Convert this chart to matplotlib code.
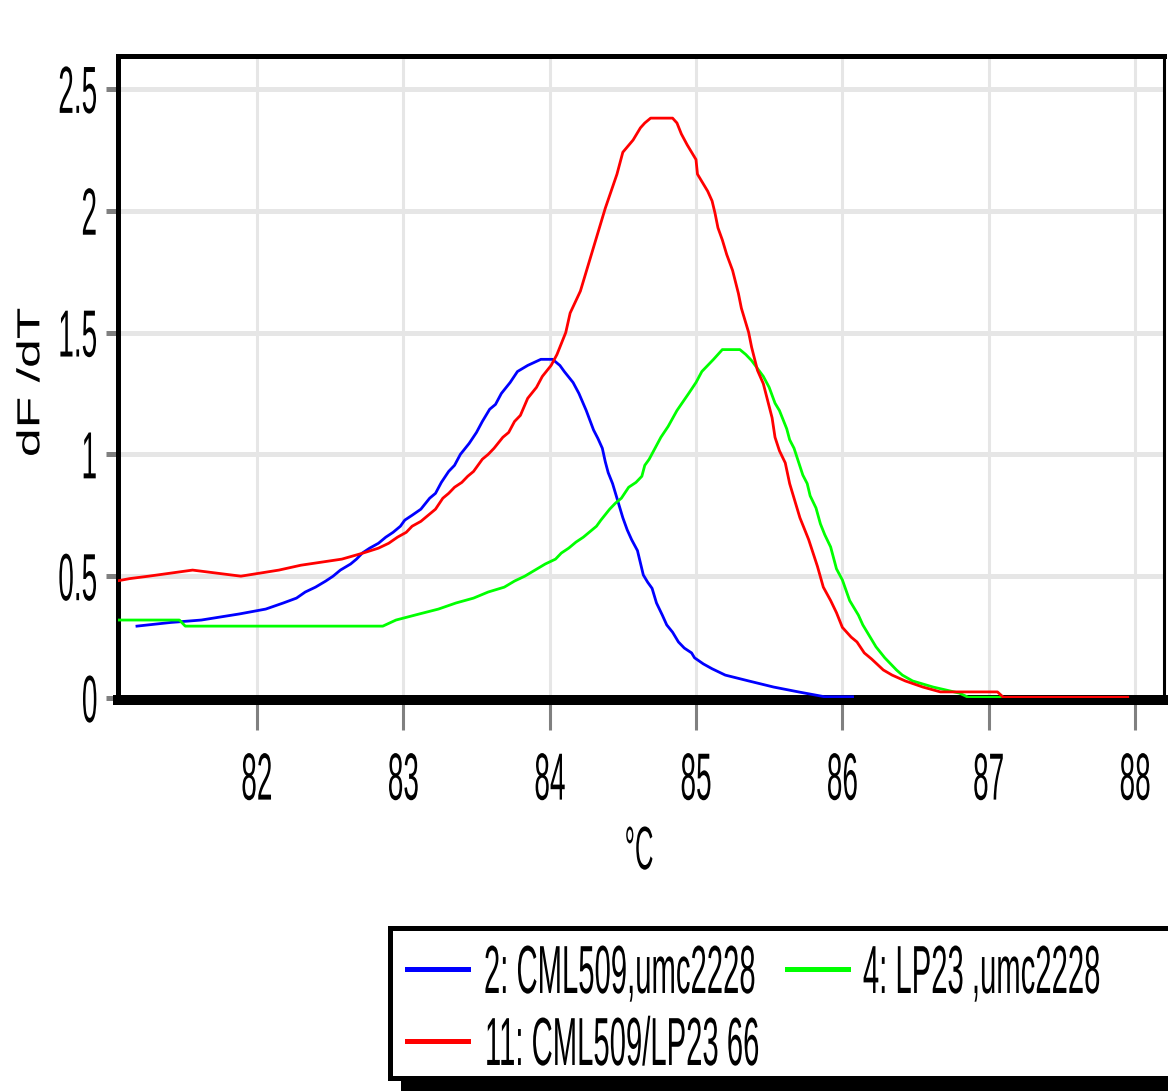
import matplotlib
matplotlib.use("Agg")
import matplotlib.pyplot as plt
from matplotlib import patheffects
from matplotlib.transforms import Affine2D
from matplotlib.patches import Rectangle
from matplotlib.lines import Line2D

# ---------------------------------------------------------
# data (temperature in degC, dF/dT)
# ---------------------------------------------------------
t_blue = [81.18, 81.41, 81.62, 81.88, 82.06, 82.18, 82.27, 82.33, 82.40, 82.47,
          82.52, 82.57, 82.64, 82.68, 82.72, 82.77, 82.83, 82.88, 82.93, 82.98,
          83.01, 83.06, 83.12, 83.18, 83.22, 83.26, 83.31, 83.35, 83.39, 83.45,
          83.50, 83.54, 83.59, 83.63, 83.67, 83.73, 83.78, 83.85, 83.94, 84.02,
          84.07, 84.10, 84.16, 84.20, 84.25, 84.30, 84.33, 84.36, 84.38, 84.40,
          84.43, 84.47, 84.50, 84.53, 84.56, 84.60, 84.62, 84.64, 84.67, 84.70,
          84.73, 84.77, 84.80, 84.84, 84.88, 84.92, 84.97, 84.99, 85.05, 85.11,
          85.20, 85.36, 85.53, 85.70, 85.88, 86.07]
d_blue = [0.295, 0.31, 0.32, 0.345, 0.365, 0.39, 0.41, 0.435, 0.455, 0.48,
          0.50, 0.525, 0.55, 0.57, 0.595, 0.615, 0.635, 0.66, 0.68, 0.705,
          0.73, 0.75, 0.775, 0.82, 0.84, 0.885, 0.93, 0.955, 1.0, 1.045,
          1.09, 1.135, 1.185, 1.205, 1.25, 1.295, 1.34, 1.365, 1.39, 1.39,
          1.365, 1.34, 1.295, 1.25, 1.18, 1.10, 1.065, 1.025, 0.97, 0.925,
          0.88, 0.80, 0.74, 0.69, 0.65, 0.605, 0.555, 0.505, 0.475, 0.45,
          0.39, 0.34, 0.30, 0.27, 0.23, 0.205, 0.185, 0.165, 0.14, 0.12,
          0.094, 0.07, 0.045, 0.025, 0.005, 0.005]

t_green = [81.04, 81.47, 81.51, 82.86, 82.95, 83.11, 83.24, 83.36, 83.48, 83.58,
           83.69, 83.76, 83.83, 83.90, 83.97, 84.04, 84.08, 84.13, 84.18, 84.23,
           84.28, 84.32, 84.35, 84.41, 84.45, 84.49, 84.54, 84.59, 84.63, 84.65,
           84.68, 84.72, 84.76, 84.81, 84.87, 84.95, 85.00, 85.04, 85.08, 85.12,
           85.15, 85.18, 85.30, 85.34, 85.38, 85.46, 85.50, 85.54, 85.57, 85.62,
           85.64, 85.67, 85.70, 85.73, 85.76, 85.78, 85.82, 85.85, 85.88, 85.92,
           85.96, 86.00, 86.05, 86.11, 86.14, 86.19, 86.23, 86.29, 86.37, 86.41,
           86.48, 86.62, 86.80, 86.86, 87.08]
d_green = [0.32, 0.32, 0.295, 0.295, 0.32, 0.345, 0.365, 0.39, 0.41, 0.435,
           0.455, 0.48, 0.50, 0.525, 0.55, 0.57, 0.595, 0.615, 0.64, 0.66,
           0.685, 0.705, 0.73, 0.775, 0.80, 0.82, 0.865, 0.885, 0.91, 0.955,
           0.98, 1.025, 1.07, 1.115, 1.18, 1.25, 1.295, 1.34, 1.365, 1.39,
           1.41, 1.43, 1.43, 1.41, 1.385, 1.32, 1.275, 1.21, 1.18, 1.105,
           1.06, 1.025, 0.97, 0.915, 0.88, 0.83, 0.78, 0.715, 0.67, 0.62,
           0.53, 0.485, 0.40, 0.34, 0.30, 0.25, 0.21, 0.165, 0.115, 0.094,
           0.07, 0.045, 0.02, 0.003, 0.003]

t_red = [81.04, 81.13, 81.26, 81.56, 81.89, 82.15, 82.30, 82.58, 82.72, 82.83,
         82.90, 82.96, 83.02, 83.06, 83.12, 83.17, 83.22, 83.27, 83.31, 83.35,
         83.40, 83.44, 83.48, 83.54, 83.58, 83.62, 83.68, 83.72, 83.76, 83.80,
         83.85, 83.91, 83.95, 84.01, 84.05, 84.08, 84.11, 84.14, 84.21, 84.26,
         84.38, 84.46, 84.50, 84.57, 84.62, 84.65, 84.69, 84.84, 84.87, 84.90,
         84.94, 85.00, 85.01, 85.08, 85.11, 85.13, 85.15, 85.18, 85.21, 85.25,
         85.29, 85.31, 85.36, 85.38, 85.42, 85.46, 85.49, 85.52, 85.54, 85.57,
         85.61, 85.64, 85.68, 85.71, 85.77, 85.80, 85.83, 85.87, 85.92, 85.96,
         86.00, 86.06, 86.10, 86.15, 86.20, 86.28, 86.34, 86.43, 86.55, 86.67,
         87.06, 87.10, 87.95]
d_red = [0.48, 0.49, 0.50, 0.525, 0.50, 0.525, 0.545, 0.57, 0.594, 0.615,
         0.635, 0.66, 0.68, 0.705, 0.725, 0.75, 0.775, 0.82, 0.84, 0.865,
         0.885, 0.91, 0.93, 0.98, 1.0, 1.025, 1.07, 1.09, 1.135, 1.16,
         1.23, 1.275, 1.32, 1.365, 1.41, 1.455, 1.50, 1.58, 1.67, 1.77,
         2.01, 2.15, 2.24, 2.29, 2.34, 2.36, 2.38, 2.38, 2.36, 2.315,
         2.27, 2.21, 2.15, 2.08, 2.04, 1.99, 1.93, 1.88, 1.82, 1.755,
         1.66, 1.60, 1.50, 1.44, 1.345, 1.29, 1.22, 1.15, 1.07, 1.015,
         0.965, 0.88, 0.80, 0.74, 0.65, 0.595, 0.54, 0.455, 0.40, 0.35,
         0.29, 0.25, 0.23, 0.185, 0.16, 0.115, 0.094, 0.07, 0.045, 0.025,
         0.025, 0.003, 0.003]

labels = ["2: CML509,umc2228", "4: LP23 ,umc2228", "11: CML509/LP23 66"]
colors = ["#0000ff", "#00ff00", "#ff0000"]

xticks = [82, 83, 84, 85, 86, 87, 88]
yticks = [0, 0.5, 1, 1.5, 2, 2.5]
ytick_labels = ["0", "0.5", "1", "1.5", "2", "2.5"]


# ---------------------------------------------------------
# helpers
# ---------------------------------------------------------
class Squeeze(patheffects.AbstractPathEffect):
    """Scale glyphs along the text direction (the source image is stretched)."""

    def __init__(self, sx, anchor="center"):
        super().__init__()
        self.sx = sx
        self.anchor = anchor

    def draw_path(self, renderer, gc, tpath, affine, rgbFace=None):
        ext = tpath.get_extents()
        if self.anchor == "left":
            a = ext.x0
        elif self.anchor == "right":
            a = ext.x1
        else:
            a = 0.5 * (ext.x0 + ext.x1)
        t = Affine2D().translate(-a, 0).scale(self.sx, 1).translate(a, 0)
        renderer.draw_path(gc, tpath, t + affine, rgbFace)


W, H = 1168, 1091


def fx(px):
    return px / W


def fy(py):
    return 1 - py / H


plt.rcParams["font.family"] = ["Liberation Sans", "DejaVu Sans"]

fig = plt.figure(figsize=(W / 100, H / 100), dpi=100)
ax = fig.add_axes([fx(117.5), fy(698), fx(1164) - fx(117.5), fy(56) - fy(698)])

ax.plot(t_blue, d_blue, color=colors[0], lw=2.0, zorder=3)
ax.plot(t_green, d_green, color=colors[1], lw=2.0, zorder=3)
ax.plot(t_red, d_red, color=colors[2], lw=2.0, zorder=3)

ax.set_xlim(81.047, 88.198)
ax.set_ylim(0, 2.635)

# spines first: moving a spine resets the tick objects
for side, lw in [("left", 3.6), ("top", 3.6), ("right", 2.2), ("bottom", 7.2)]:
    ax.spines[side].set_linewidth(lw)
    ax.spines[side].set_color("black")
ax.spines["bottom"].set_position(("outward", 1.5))

ax.set_xticks(xticks)
ax.set_xticklabels([str(v) for v in xticks])
ax.set_yticks(yticks)
ax.set_yticklabels(ytick_labels)

ax.set_axisbelow(True)
ax.yaxis.grid(True, color="#e6e6e6", lw=3.6)
ax.xaxis.grid(True, color="#e6e6e6", lw=2.2)

ax.tick_params(axis="x", direction="out", length=21.6, width=2.2,
               color="#808080", pad=15.5, labelsize=48)
ax.tick_params(axis="y", direction="out", length=8.3, width=3.6,
               color="#808080", pad=5, labelsize=48)

for lab in ax.get_xticklabels():
    lab.set_path_effects([Squeeze(0.42, "center")])
for lab in ax.get_yticklabels():
    lab.set_path_effects([Squeeze(0.42, "right")])

ax.set_xlabel("°C", fontsize=44)
ax.xaxis.set_label_coords(0.498, -0.198)
ax.xaxis.label.set_path_effects([Squeeze(0.42, "center")])

ax.set_ylabel("dF /dT", fontsize=23)
ax.yaxis.set_label_coords(-0.068, 0.492)
ax.yaxis.label.set_path_effects([Squeeze(1.62, "center")])

# ---------------------------------------------------------
# legend box (drawn by hand so the squeezed text fits)
# ---------------------------------------------------------
shadow = Rectangle((fx(401), fy(1091)), fx(1200) - fx(401), fy(940) - fy(1091),
                   transform=fig.transFigure, facecolor="black",
                   edgecolor="none", zorder=1)
box = Rectangle((fx(390), fy(1078)), fx(1200) - fx(390), fy(928) - fy(1078),
                transform=fig.transFigure, facecolor="white",
                edgecolor="black", lw=3.6, zorder=2)
fig.add_artist(shadow)
fig.add_artist(box)

rows = [(407, 468, 482, 969, 993), (787, 848, 862, 969, 993),
        (407, 468, 482, 1041, 1065)]
for (x0, x1, xt, yl, yb), lab, col in zip(rows, labels, colors):
    fig.add_artist(Line2D([fx(x0), fx(x1)], [fy(yl), fy(yl)],
                          transform=fig.transFigure, color=col, lw=3.6,
                          zorder=3))
    fig.text(fx(xt), fy(yb), lab, fontsize=49, ha="left", va="baseline",
             zorder=3, path_effects=[Squeeze(0.43, "left")])

fig.savefig("out.png", dpi=100)
plt.close(fig)
print("Saved: out.png")
